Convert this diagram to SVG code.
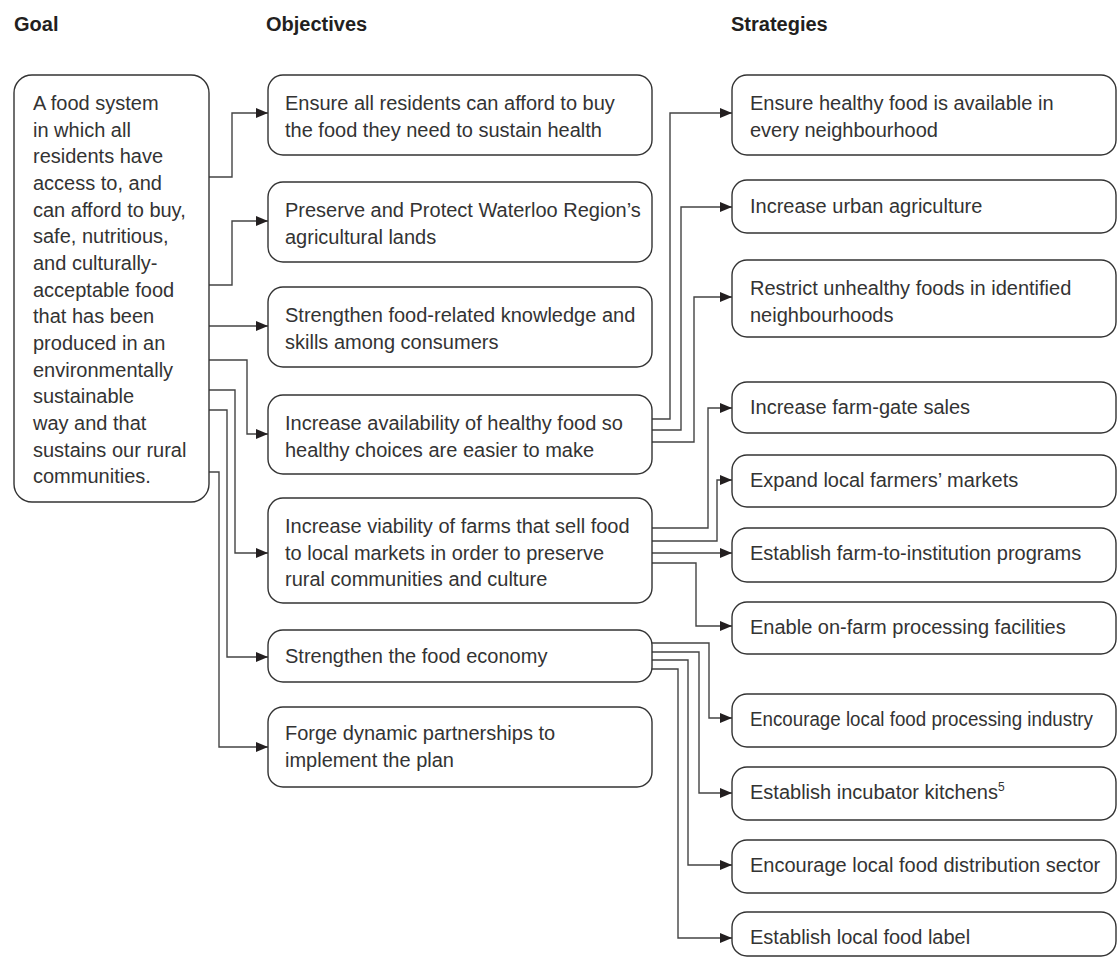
<svg xmlns="http://www.w3.org/2000/svg" width="1118" height="959" viewBox="0 0 1118 959">
<defs>
<marker id="ah" viewBox="0 0 12 10" refX="12" refY="5" markerWidth="12" markerHeight="10" markerUnits="userSpaceOnUse" orient="auto">
<path d="M0,0 L12,5 L0,10 z" fill="#231f20"/>
</marker>
<style>
.box{fill:#fff;stroke:#333;stroke-width:1.4}
.t{font-family:"Liberation Sans",Arial,sans-serif;font-size:20px;fill:#333}
.h{font-family:"Liberation Sans",Arial,sans-serif;font-size:20px;font-weight:bold;fill:#231f20}
.c{fill:none;stroke:#444;stroke-width:1.4;marker-end:url(#ah)}
</style>
</defs>
<rect width="1118" height="959" fill="#fff"/>
<g id="headings">
<text class="h" x="14" y="31">Goal</text>
<text class="h" x="266" y="31">Objectives</text>
<text class="h" x="731" y="31">Strategies</text>
</g>
<g id="connectors">
<path class="c" d="M209,177 H232 V113 H268"/>
<path class="c" d="M209,285 H232 V221 H268"/>
<path class="c" d="M209,326 H268"/>
<path class="c" d="M209,360 H247 V434 H268"/>
<path class="c" d="M209,390 H235 V553 H268"/>
<path class="c" d="M209,410 H227 V657 H268"/>
<path class="c" d="M209,472 H219 V747 H268"/>
<path class="c" d="M652,419 H670 V113 H732"/>
<path class="c" d="M652,430 H681 V207 H732"/>
<path class="c" d="M652,442 H694 V297 H732"/>
<path class="c" d="M652,528 H708 V408 H732"/>
<path class="c" d="M652,541 H717 V480 H732"/>
<path class="c" d="M652,553 H732"/>
<path class="c" d="M652,563 H696 V626 H732"/>
<path class="c" d="M652,643 H709 V718 H732"/>
<path class="c" d="M652,652 H699 V793 H732"/>
<path class="c" d="M652,660 H688 V865 H732"/>
<path class="c" d="M652,669 H678 V938 H732"/>
</g>
<g id="goal">
<rect class="box" x="14" y="75" width="195" height="427" rx="18"/>
<text class="t" x="33">
<tspan x="33" y="110">A food system</tspan>
<tspan x="33" y="137">in which all</tspan>
<tspan x="33" y="163">residents have</tspan>
<tspan x="33" y="190">access to, and</tspan>
<tspan x="33" y="217">can afford to buy,</tspan>
<tspan x="33" y="243">safe, nutritious,</tspan>
<tspan x="33" y="270">and culturally-</tspan>
<tspan x="33" y="297">acceptable food</tspan>
<tspan x="33" y="323">that has been</tspan>
<tspan x="33" y="350">produced in an</tspan>
<tspan x="33" y="377">environmentally</tspan>
<tspan x="33" y="403">sustainable</tspan>
<tspan x="33" y="430">way and that</tspan>
<tspan x="33" y="457">sustains our rural</tspan>
<tspan x="33" y="483">communities.</tspan>
</text>
</g>
<g id="obj1">
<rect class="box" x="268" y="75" width="384" height="80" rx="15"/>
<text class="t"><tspan x="285" y="110">Ensure all residents can afford to buy</tspan><tspan x="285" y="137">the food they need to sustain health</tspan></text>
</g>
<g id="obj2">
<rect class="box" x="268" y="182" width="384" height="80" rx="15"/>
<text class="t"><tspan x="285" y="217">Preserve and Protect Waterloo Region’s</tspan><tspan x="285" y="244">agricultural lands</tspan></text>
</g>
<g id="obj3">
<rect class="box" x="268" y="287" width="384" height="80" rx="15"/>
<text class="t"><tspan x="285" y="322">Strengthen food-related knowledge and</tspan><tspan x="285" y="349">skills among consumers</tspan></text>
</g>
<g id="obj4">
<rect class="box" x="268" y="395" width="384" height="79" rx="15"/>
<text class="t"><tspan x="285" y="430">Increase availability of healthy food so</tspan><tspan x="285" y="457">healthy choices are easier to make</tspan></text>
</g>
<g id="obj5">
<rect class="box" x="268" y="498" width="384" height="105" rx="15"/>
<text class="t"><tspan x="285" y="533">Increase viability of farms that sell food</tspan><tspan x="285" y="560">to local markets in order to preserve</tspan><tspan x="285" y="586">rural communities and culture</tspan></text>
</g>
<g id="obj6">
<rect class="box" x="268" y="630" width="384" height="52" rx="15"/>
<text class="t" x="285" y="663">Strengthen the food economy</text>
</g>
<g id="obj7">
<rect class="box" x="268" y="707" width="384" height="80" rx="15"/>
<text class="t"><tspan x="285" y="740">Forge dynamic partnerships to</tspan><tspan x="285" y="767">implement the plan</tspan></text>
</g>
<g id="s1">
<rect class="box" x="732" y="75" width="384" height="80" rx="15"/>
<text class="t"><tspan x="750" y="110">Ensure healthy food is available in</tspan><tspan x="750" y="137">every neighbourhood</tspan></text>
</g>
<g id="s2">
<rect class="box" x="732" y="180" width="384" height="53" rx="15"/>
<text class="t" x="750" y="213">Increase urban agriculture</text>
</g>
<g id="s3">
<rect class="box" x="732" y="260" width="384" height="77" rx="15"/>
<text class="t"><tspan x="750" y="295">Restrict unhealthy foods in identified</tspan><tspan x="750" y="322">neighbourhoods</tspan></text>
</g>
<g id="s4">
<rect class="box" x="732" y="382" width="384" height="51" rx="15"/>
<text class="t" x="750" y="414">Increase farm-gate sales</text>
</g>
<g id="s5">
<rect class="box" x="732" y="455" width="384" height="52" rx="15"/>
<text class="t" x="750" y="487">Expand local farmers’ markets</text>
</g>
<g id="s6">
<rect class="box" x="732" y="528" width="384" height="54" rx="15"/>
<text class="t" x="750" y="560">Establish farm-to-institution programs</text>
</g>
<g id="s7">
<rect class="box" x="732" y="602" width="384" height="52" rx="15"/>
<text class="t" x="750" y="634">Enable on-farm processing facilities</text>
</g>
<g id="s8">
<rect class="box" x="732" y="694" width="384" height="53" rx="15"/>
<text class="t" x="750" y="726" textLength="343" lengthAdjust="spacingAndGlyphs">Encourage local food processing industry</text>
</g>
<g id="s9">
<rect class="box" x="732" y="767" width="384" height="53" rx="15"/>
<text class="t" x="750" y="799">Establish incubator kitchens<tspan font-size="12" dy="-8">5</tspan></text>
</g>
<g id="s10">
<rect class="box" x="732" y="840" width="384" height="53" rx="15"/>
<text class="t" x="750" y="872">Encourage local food distribution sector</text>
</g>
<g id="s11">
<rect class="box" x="732" y="912" width="384" height="44" rx="15"/>
<text class="t" x="750" y="944">Establish local food label</text>
</g>
</svg>
